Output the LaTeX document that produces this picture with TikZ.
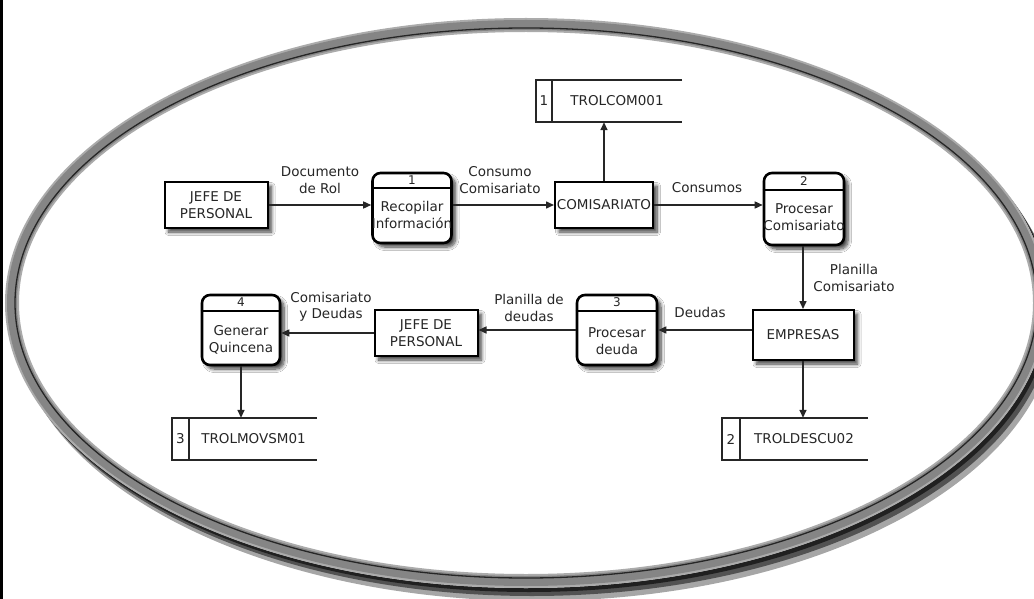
\documentclass[tikz,border=0pt]{standalone}
\usepackage{fontspec}
\setmainfont{DejaVu Sans}
\usetikzlibrary{arrows.meta,shadows.blur,calc}

\tikzset{
  txt/.style={font=\fontsize{13.5}{16.5}\selectfont, text=black!85, align=center, inner sep=0pt},
  boxshadow/.style={blur shadow={shadow xshift=4pt, shadow yshift=-4pt, shadow blur radius=3.5pt, shadow blur steps=8, shadow opacity=75}},
  entity/.style={txt, draw=black, line width=2pt, fill=white, minimum width=103pt, minimum height=46pt, boxshadow},
  procbox/.style={draw=black, line width=2.6pt, rounded corners=8pt, fill=white, minimum width=79pt, minimum height=70pt, boxshadow},
  hdr/.style={line width=2pt},
  num/.style={font=\fontsize{12}{14}\selectfont, text=black!85, inner sep=0pt},
  storebox/.style={minimum width=146pt, minimum height=42pt, inner sep=0pt},
  storeline/.style={line width=1.8pt, black!85},
  flow/.style={line width=1.5pt, black!85, -{Triangle[length=8pt, width=7pt]}},
  lbl/.style={txt}
}

\begin{document}
\begin{tikzpicture}[x=1pt, y=-1pt]
\useasboundingbox (0,0) rectangle (1034,599);
\fill[white] (0,0) rectangle (1034,599);

% frame edge on the left
\draw[line width=2.5pt, black] (1.25,0) -- (1.25,599);

% oval frame: dark shadow to the lower right, white inside, grey ring
\fill[black, opacity=0.35] (535,316) ellipse [x radius=521, y radius=285];
\fill[black, opacity=0.5] (532,311) ellipse [x radius=521, y radius=285];
\fill[black, opacity=0.6] (529,307) ellipse [x radius=521, y radius=285];
\fill[white] (526,303) ellipse [x radius=521, y radius=285];
\draw[line width=14pt, black!33] (526,303) ellipse [x radius=514, y radius=278];
\draw[line width=10pt, black!48] (526,303) ellipse [x radius=514, y radius=278];
\draw[line width=1.3pt, black!85] (526,303) ellipse [x radius=511, y radius=275];

% external entities
\node[entity] (jefe1) at (216,205) {JEFE DE\\PERSONAL};
\node[entity, minimum width=98pt] (comis) at (604,205) {COMISARIATO};
\node[entity, minimum width=101pt, minimum height=50pt] (empr) at (803,335) {EMPRESAS};
\node[entity] (jefe2) at (426,333) {JEFE DE\\PERSONAL};

% processes
\node[procbox] (p1) at (412,208) {};
\draw[hdr] ($(p1.north west)+(0,16)$) -- ($(p1.north east)+(0,16)$);
\node[num] (p1n) at ($(p1.north)+(0,8)$) {1};
\node[txt] (p1t) at ($(p1.center)+(0,7)$) {Recopilar\\Información};

\node[procbox, minimum width=80pt, minimum height=72pt] (p2) at (804,209) {};
\draw[hdr] ($(p2.north west)+(0,18)$) -- ($(p2.north east)+(0,18)$);
\node[num] (p2n) at ($(p2.north)+(0,9)$) {2};
\node[txt] (p2t) at ($(p2.center)+(0,8)$) {Procesar\\Comisariato};

\node[procbox, minimum width=80pt] (p3) at (617,330) {};
\draw[hdr] ($(p3.north west)+(0,17)$) -- ($(p3.north east)+(0,17)$);
\node[num] (p3n) at ($(p3.north)+(0,8.5)$) {3};
\node[txt] (p3t) at ($(p3.center)+(0,11)$) {Procesar\\deuda};

\node[procbox, minimum width=78pt] (p4) at (241,330) {};
\draw[hdr] ($(p4.north west)+(0,17)$) -- ($(p4.north east)+(0,17)$);
\node[num] (p4n) at ($(p4.north)+(0,8.5)$) {4};
\node[txt] (p4t) at ($(p4.center)+(0,10)$) {Generar\\Quincena};

% data stores
\node[storebox] (s1) at (609,101) {};
\draw[storeline] (s1.north east) -- (s1.north west) -- (s1.south west) -- (s1.south east);
\draw[storeline, line width=2.4pt] ($(s1.north west)+(16,0)$) -- ($(s1.south west)+(16,0)$);
\node[txt] (s1n) at ($(s1.west)+(8,0)$) {1};
\node[txt] (s1t) at ($(s1.center)+(8,0)$) {TROLCOM001};

\node[storebox, minimum width=145pt] (s3) at (244.5,439) {};
\draw[storeline] (s3.north east) -- (s3.north west) -- (s3.south west) -- (s3.south east);
\draw[storeline, line width=2.4pt] ($(s3.north west)+(17,0)$) -- ($(s3.south west)+(17,0)$);
\node[txt] (s3n) at ($(s3.west)+(8.5,0)$) {3};
\node[txt] (s3t) at ($(s3.center)+(9,0)$) {TROLMOVSM01};

\node[storebox] (s2) at (795,439) {};
\draw[storeline] (s2.north east) -- (s2.north west) -- (s2.south west) -- (s2.south east);
\draw[storeline, line width=2.4pt] ($(s2.north west)+(18,0)$) -- ($(s2.south west)+(18,0)$);
\node[txt] (s2n) at ($(s2.west)+(9,0)$) {2};
\node[txt] (s2t) at ($(s2.center)+(9,0)$) {TROLDESCU02};

% data flows
\draw[flow] (jefe1.east) -- (jefe1.east -| p1.west);
\draw[flow] (p1.east |- comis.west) -- (comis.west);
\draw[flow] (comis.north) -- (comis.north |- s1.south);
\draw[flow] (comis.east) -- (comis.east -| p2.west);
\draw[flow] (p2.south -| empr.north) -- (empr.north);
\draw[flow] (empr.west |- p3.east) -- (p3.east);
\draw[flow] (p3.west) -- (p3.west -| jefe2.east);
\draw[flow] (jefe2.west) -- (jefe2.west -| p4.east);
\draw[flow] (p4.south) -- (p4.south |- s3.north);
\draw[flow] (empr.south) -- (empr.south |- s2.north);

% flow labels
\node[lbl] (l1) at (320,180) {Documento\\de Rol};
\node[lbl] (l2) at (500,180) {Consumo\\Comisariato};
\node[lbl] (l3) at (707,188) {Consumos};
\node[lbl] (l4) at (854,278) {Planilla\\Comisariato};
\node[lbl] (l5) at (700,312) {Deudas};
\node[lbl] (l6) at (529,308) {Planilla de\\deudas};
\node[lbl] (l7) at (331,307) {Comisariato\\y Deudas};
\end{tikzpicture}
\end{document}
